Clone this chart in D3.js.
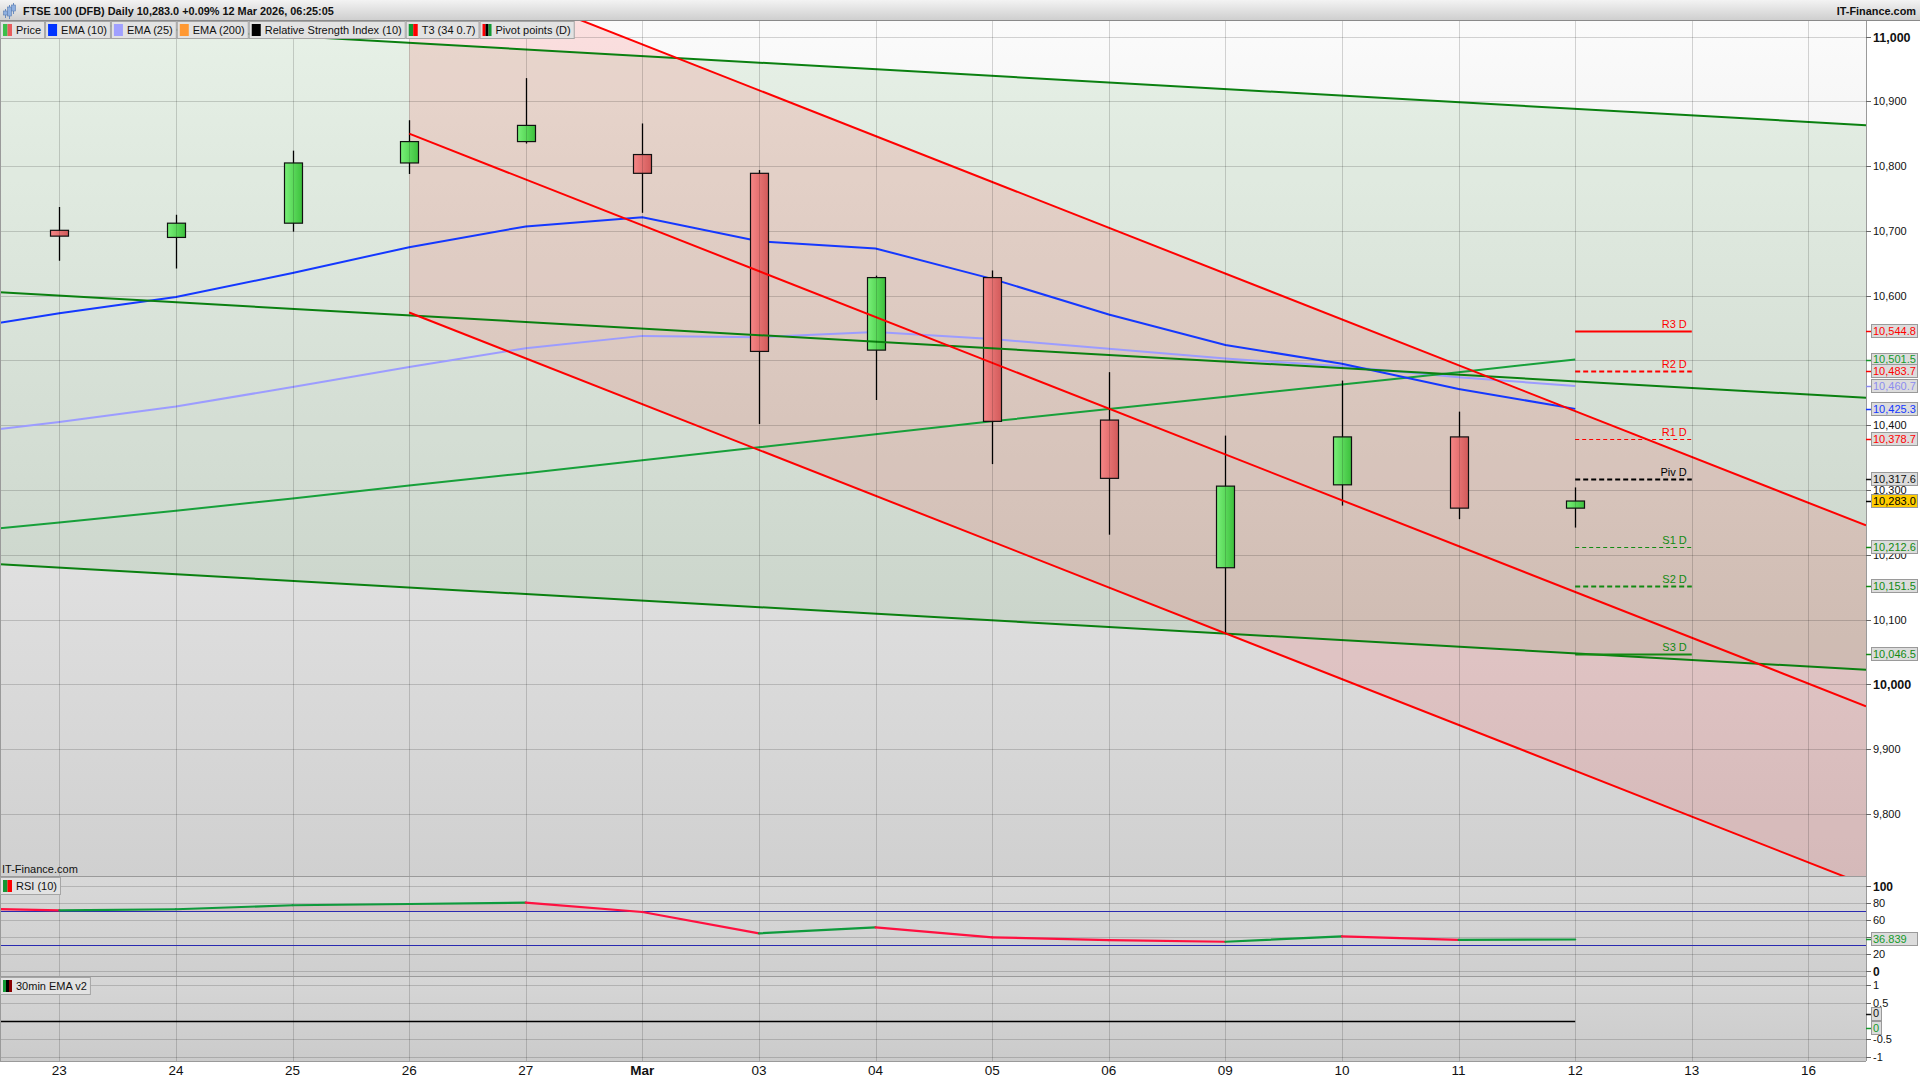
<!DOCTYPE html>
<html><head><meta charset="utf-8">
<script src="https://cdn.jsdelivr.net/npm/d3@7"></script>
<style>
body{margin:0;background:#fff;}
svg{display:block;font-family:"Liberation Sans",Arial,sans-serif;}
</style>
</head><body>
<svg id="c" width="1920" height="1080"></svg>
<script>
// ---------------- DATA ----------------
const titleText = "FTSE 100 (DFB) Daily 10,283.0 +0.09% 12 Mar 2026, 06:25:05";
const brandText = "IT-Finance.com";
const legendItems = ["Price","EMA (10)","EMA (25)","EMA (200)","Relative Strength Index (10)","T3 (34 0.7)","Pivot points (D)"];
// x-axis categories (index 0 = 23 Feb ... 15 = 16 Mar)
const axisDates = ["23","24","25","26","27","Mar","03","04","05","06","09","10","11","12","13","16"];
// daily candles, 23 Feb .. 12 Mar
const candleOpen  = [10701,10690,10712,10805,10838,10818,10789,10516,10628,10408,10180,10308,10382,10272];
const candleHigh  = [10737,10725,10824,10871,10936,10866,10794,10631,10639,10482,10384,10469,10421,10304];
const candleLow   = [10654,10642,10699,10788,10835,10728,10402,10439,10340,10231,10078,10276,10255,10242];
const candleClose = [10692,10712,10805,10838,10863,10789,10514,10628,10406,10318,10306,10382,10272,10283];
// indicators, 20 Feb (index -1) .. 12 Mar
const ema10 = [10544,10573,10598,10635,10675,10707,10721,10684,10673,10626,10571,10524,10495,10456,10425.3];
const ema25 = [10384,10405,10429,10459,10490,10519,10538,10536,10544,10533,10518,10503,10491,10474,10460.7];
const t3    = [10232,10250,10268,10287,10307,10326,10346,10366,10386,10406,10425,10444,10463,10482,10501.5];
const rsi10 = [74.1,71.2,72.4,77.1,78.6,80.1,69.2,44.1,51.2,39.4,36.2,34.2,40.6,36.4,36.839];
const ema30min = [0,0,0,0,0,0,0,0,0,0,0,0,0,0,0];
// trend channels: value at start index and at 16 Mar (index 15)
const greenTrendStart = [11021.0,10600.1,10180.1];   // at 23 Feb
const greenTrendEnd   = [10868.3,10447.5,10027.5];   // at 16 Mar
const redTrendStart   = [11129.6,10850.2,10574.1];   // at 26 Feb
const redTrendEnd     = [10280.3,10001.1,9725.0];    // at 16 Mar
// daily pivots
const pivotNames  = ["R3 D","R2 D","R1 D","Piv D","S1 D","S2 D","S3 D"];
const pivotValues = [10544.8,10483.7,10378.7,10317.6,10212.6,10151.5,10046.5];
const lastPrice = 10283.0;
// axis ticks
const priceTicks = [9800,9900,10000,10100,10200,10300,10400,10500,10600,10700,10800,10900,11000];
const rsiTicks = [0,20,40,60,80,100];
const rsiLevels = [70,30];
const emaTicks = [-1,-0.5,0.5,1];

// ---------------- LAYOUT ----------------
const plotR = 1866;
const mainTop = 21, mainBot = 876, rsiTop = 877, rsiBot = 976, emaTop = 977, emaBot = 1061;
const x = d3.scaleLinear().domain([-0.509, 15.494]).range([0, plotR]);
const y = d3.scaleLinear().domain([9704, 11024.2]).range([mainBot, mainTop]);
const yR = d3.scaleLinear().domain([0, 100]).range([970.8, 885.8]);
const yE = d3.scaleLinear().domain([-1, 1]).range([1057, 985]);
const fmt = d3.format(",");
const fmt1 = d3.format(",.1f");

const svg = d3.select("#c");
const defs = svg.append("defs");
function grad(id, x2, y2, stops) {
  const g = defs.append("linearGradient").attr("id", id).attr("x1",0).attr("y1",0).attr("x2",x2).attr("y2",y2);
  stops.forEach(s => g.append("stop").attr("offset", s[0]).attr("stop-color", s[1]));
}
grad("gTitle", 0, 1, [[0,"#f3f3f3"],[1,"#cdcdcd"]]);
grad("gMain", 0, 1, [[0,"#fbfbfb"],[1,"#d0d0d0"]]);
grad("gRsi", 0, 1, [[0,"#d8d8d8"],[1,"#cfcfcf"]]);
grad("gEma", 0, 1, [[0,"#d6d6d6"],[1,"#cbcbcb"]]);
grad("gRed", 1, 0, [[0,"#f58686"],[1,"#d25a5a"]]);
grad("gGreen", 1, 0, [[0,"#78f078"],[1,"#3cc03c"]]);
function clip(id, x0, y0, w, h) {
  defs.append("clipPath").attr("id", id).append("rect").attr("x",x0).attr("y",y0).attr("width",w).attr("height",h);
}
clip("cMain", 0, mainTop, plotR, mainBot - mainTop);
clip("cRsi", 0, rsiTop, plotR, rsiBot - rsiTop);
clip("cEma", 0, emaTop, plotR, emaBot - emaTop);
clip("cOver70", 0, rsiTop, plotR, yR(70) - rsiTop);

// backgrounds
svg.append("rect").attr("width",1920).attr("height",1080).attr("fill","#fff");
svg.append("rect").attr("x",0).attr("y",mainTop).attr("width",plotR).attr("height",mainBot-mainTop).attr("fill","url(#gMain)");
svg.append("rect").attr("x",0).attr("y",rsiTop).attr("width",plotR).attr("height",rsiBot-rsiTop).attr("fill","url(#gRsi)");
svg.append("rect").attr("x",0).attr("y",emaTop).attr("width",plotR).attr("height",emaBot-emaTop).attr("fill","url(#gEma)");

// ---------------- MAIN PANEL ----------------
const main = svg.append("g").attr("clip-path","url(#cMain)");
const [xa, xb] = x.domain();
function trendVal(p0, i0, p1, i1, i) { return p0 + (p1 - p0) * (i - i0) / (i1 - i0); }
// green channel fill
const gU = i => trendVal(greenTrendStart[0], 0, greenTrendEnd[0], 15, i);
const gL = i => trendVal(greenTrendStart[2], 0, greenTrendEnd[2], 15, i);
main.append("path").attr("fill","rgba(0,128,0,0.08)")
  .attr("d", `M${x(xa)},${y(gU(xa))}L${x(xb)},${y(gU(xb))}L${x(xb)},${y(gL(xb))}L${x(xa)},${y(gL(xa))}Z`);
// red channel fill
const rU = i => trendVal(redTrendStart[0], 3, redTrendEnd[0], 15, i);
const rL = i => trendVal(redTrendStart[2], 3, redTrendEnd[2], 15, i);
main.append("path").attr("fill","rgba(255,0,0,0.11)")
  .attr("d", `M${x(3)},${y(rU(3))}L${x(xb)},${y(rU(xb))}L${x(xb)},${y(rL(xb))}L${x(3)},${y(rL(3))}Z`);

// grid
const gridColor = "rgba(0,0,0,0.16)";
main.selectAll("line.hg").data(priceTicks).enter().append("line")
  .attr("x1",0).attr("x2",plotR).attr("y1",d=>Math.round(y(d))+0.5).attr("y2",d=>Math.round(y(d))+0.5)
  .attr("stroke",gridColor);
svg.selectAll("line.vg").data(axisDates).enter().append("line")
  .attr("x1",(d,i)=>Math.round(x(i))+0.5).attr("x2",(d,i)=>Math.round(x(i))+0.5)
  .attr("y1",mainTop).attr("y2",emaBot).attr("stroke",gridColor);

// indicator lines
const indLine = d3.line().x((d,i)=>x(i-1)).y(d=>y(d));
main.append("path").datum(ema25).attr("d",indLine).attr("fill","none").attr("stroke","#9c9cff").attr("stroke-width",2);
main.append("path").datum(t3).attr("d",indLine).attr("fill","none").attr("stroke","#17a03a").attr("stroke-width",2);
main.append("path").datum(ema10).attr("d",indLine).attr("fill","none").attr("stroke","#1438ff").attr("stroke-width",2);

// candles
const candles = main.selectAll("g.cd").data(candleOpen).enter().append("g");
candles.append("line").attr("x1",(d,i)=>Math.round(x(i))+0.5).attr("x2",(d,i)=>Math.round(x(i))+0.5)
  .attr("y1",(d,i)=>y(candleHigh[i])).attr("y2",(d,i)=>y(candleLow[i])).attr("stroke","#000").attr("stroke-width",1.3);
candles.append("rect")
  .attr("x",(d,i)=>Math.round(x(i))-9+0.5).attr("width",18)
  .attr("y",(d,i)=>y(Math.max(d,candleClose[i])))
  .attr("height",(d,i)=>Math.max(2,Math.abs(y(d)-y(candleClose[i]))))
  .attr("fill",(d,i)=>candleClose[i]>=d?"url(#gGreen)":"url(#gRed)")
  .attr("stroke","#111").attr("stroke-width",1.2);

// trend lines
greenTrendStart.forEach((p0,k)=>{
  const f = i => trendVal(p0, 0, greenTrendEnd[k], 15, i);
  main.append("line").attr("x1",x(xa)).attr("y1",y(f(xa))).attr("x2",x(xb)).attr("y2",y(f(xb)))
    .attr("stroke","#0a8010").attr("stroke-width",2);
});
redTrendStart.forEach((p0,k)=>{
  const f = i => trendVal(p0, 3, redTrendEnd[k], 15, i);
  main.append("line").attr("x1",x(3)).attr("y1",y(f(3))).attr("x2",x(xb)).attr("y2",y(f(xb)))
    .attr("stroke","#ff0000").attr("stroke-width",2);
});

// pivot lines
const pivColor = ["#ff0000","#ff0000","#ff0000","#000000","#128a12","#128a12","#128a12"];
const pivDash = [null,"5,3","4,3","5,3","4,3","5,3",null];
const pivW = [2,2,1,2,1,2,2];
pivotValues.forEach((v,k)=>{
  main.append("line").attr("x1",x(13)).attr("x2",x(14)).attr("y1",Math.round(y(v))+0.5).attr("y2",Math.round(y(v))+0.5)
    .attr("stroke",pivColor[k]).attr("stroke-width",pivW[k]).attr("stroke-dasharray",pivDash[k]);
  main.append("text").attr("x",x(14)-5).attr("y",y(v)-3).attr("text-anchor","end")
    .attr("font-size",11).attr("fill",pivColor[k]).text(pivotNames[k]);
});

main.append("text").attr("x",2).attr("y",873).attr("font-size",11).attr("fill","#111").text(brandText);

// ---------------- RSI PANEL ----------------
const rsiG = svg.append("g").attr("clip-path","url(#cRsi)");
rsiG.selectAll("line.rg").data(rsiTicks).enter().append("line")
  .attr("x1",0).attr("x2",plotR).attr("y1",d=>Math.round(yR(d))+0.5).attr("y2",d=>Math.round(yR(d))+0.5).attr("stroke",gridColor);
rsiG.append("path").datum(rsi10).attr("clip-path","url(#cOver70)")
  .attr("d", d3.area().x((d,i)=>x(i-1)).y0(yR(70)).y1(d=>yR(d)))
  .attr("fill","rgba(200,60,60,0.12)");
rsiLevels.forEach(v=>{
  rsiG.append("line").attr("x1",0).attr("x2",plotR).attr("y1",Math.round(yR(v))+0.5).attr("y2",Math.round(yR(v))+0.5)
    .attr("stroke","#2a2ab0").attr("stroke-width",1);
});
for (let i = 1; i < rsi10.length; i++) {
  rsiG.append("line").attr("x1",x(i-2)).attr("y1",yR(rsi10[i-1])).attr("x2",x(i-1)).attr("y2",yR(rsi10[i]))
    .attr("stroke", rsi10[i] >= rsi10[i-1] ? "#0e9a3c" : "#ff1040").attr("stroke-width",2.2).attr("stroke-linecap","round");
}

// ---------------- 30min EMA PANEL ----------------
const emaG = svg.append("g").attr("clip-path","url(#cEma)");
emaG.selectAll("line.eg").data(emaTicks).enter().append("line")
  .attr("x1",0).attr("x2",plotR).attr("y1",d=>Math.round(yE(d))+0.5).attr("y2",d=>Math.round(yE(d))+0.5).attr("stroke",gridColor);
emaG.append("path").datum(ema30min).attr("d", d3.line().x((d,i)=>x(i-1)).y(d=>Math.round(yE(d))+0.5))
  .attr("fill","none").attr("stroke","#000").attr("stroke-width",1.3);

// panel separators
[mainBot, rsiBot, emaBot].forEach(v=>{
  svg.append("line").attr("x1",0).attr("x2",plotR).attr("y1",v+0.5).attr("y2",v+0.5).attr("stroke","#9a9a9a").attr("stroke-width",1.2);
});
svg.append("line").attr("x1",plotR+0.5).attr("x2",plotR+0.5).attr("y1",mainTop).attr("y2",emaBot).attr("stroke","#9a9a9a");
svg.append("line").attr("x1",0.5).attr("x2",0.5).attr("y1",mainTop).attr("y2",emaBot).attr("stroke","#9a9a9a");

// ---------------- AXES ----------------
const boxes = [
  [pivotValues[0], "#ff0000"],
  [t3[t3.length-1], "#139a2a"],
  [pivotValues[1], "#ff0000"],
  [ema25[ema25.length-1], "#8c8cf0"],
  [ema10[ema10.length-1], "#1438ff"],
  [pivotValues[2], "#ff0000"],
  [pivotValues[3], "#111111"],
  [pivotValues[4], "#128a12"],
  [pivotValues[5], "#128a12"],
  [pivotValues[6], "#128a12"]
];
const boxYs = boxes.map(b=>y(b[0])).concat([y(lastPrice)]);
const rsiBoxY = yR(rsi10[rsi10.length-1]);
const axR = svg.append("g");
priceTicks.forEach(v=>{
  const yy = Math.round(y(v))+0.5;
  axR.append("line").attr("x1",plotR).attr("x2",plotR+5).attr("y1",yy).attr("y2",yy).attr("stroke","#666");
  if (boxYs.some(b=>Math.abs(b-yy)<5)) return; // fully hidden behind a value box
  const big = (v % 1000 === 0);
  axR.append("text").attr("x",plotR+7).attr("y",yy).attr("dy","0.35em")
    .attr("font-size", big?12.5:11).attr("font-weight", big?"bold":"normal").attr("fill","#111").text(fmt(v));
});
rsiTicks.forEach(v=>{
  const yy = Math.round(yR(v))+0.5;
  axR.append("line").attr("x1",plotR).attr("x2",plotR+5).attr("y1",yy).attr("y2",yy).attr("stroke","#666");
  if (Math.abs(rsiBoxY-yy)<5) return;
  const big = (v===0||v===100);
  axR.append("text").attr("x",plotR+7).attr("y",yy).attr("dy","0.35em")
    .attr("font-size", big?12:11).attr("font-weight", big?"bold":"normal").attr("fill","#111").text(v);
});
emaTicks.forEach(v=>{
  const yy = Math.round(yE(v))+0.5;
  axR.append("line").attr("x1",plotR).attr("x2",plotR+5).attr("y1",yy).attr("y2",yy).attr("stroke","#666");
  axR.append("text").attr("x",plotR+7).attr("y",yy).attr("dy","0.35em").attr("font-size",11).attr("fill","#111").text(v);
});

// value boxes
function valueBox(yy, label, color, bg, w) {
  axR.append("line").attr("x1",plotR).attr("x2",plotR+5).attr("y1",Math.round(yy)+0.5).attr("y2",Math.round(yy)+0.5).attr("stroke",color).attr("stroke-width",1.5);
  axR.append("rect").attr("x",plotR+5.5).attr("y",Math.round(yy)-6.5).attr("width",w||46).attr("height",13)
    .attr("fill",bg||"#dcdcdc").attr("stroke","#9a9a9a");
  axR.append("text").attr("x",plotR+7).attr("y",yy).attr("dy","0.36em").attr("font-size",11).attr("fill",color).text(label);
}
boxes.forEach(b=>valueBox(y(b[0]), fmt1(b[0]), b[1]));
valueBox(y(lastPrice), fmt1(lastPrice), "#000", "#ffcc00");
valueBox(rsiBoxY, String(rsi10[rsi10.length-1]), "#139a2a");
valueBox(yE(0)-7.5, String(ema30min[ema30min.length-1]), "#111", "#dcdcdc", 10);
valueBox(yE(0)+7, String(ema30min[ema30min.length-1]), "#139a2a", "#dcdcdc", 10);

// x axis labels
svg.selectAll("text.xl").data(axisDates).enter().append("text")
  .attr("x",(d,i)=>x(i)).attr("y",1075).attr("text-anchor","middle")
  .attr("font-family",'"Liberation Sans Narrow","Liberation Sans",Arial,sans-serif')
  .attr("font-size",13.5).attr("font-weight",d=>d==="Mar"?"bold":"normal").attr("fill","#111").text(d=>d);

// ---------------- TITLE BAR & LEGENDS ----------------
svg.append("rect").attr("x",0).attr("y",0).attr("width",1920).attr("height",mainTop).attr("fill","url(#gTitle)");
svg.append("line").attr("x1",0).attr("x2",1920).attr("y1",mainTop-0.5).attr("y2",mainTop-0.5).attr("stroke","#8a8a8a");
// small icon
const ic = svg.append("g");
[[5,9,6],[9,5,11],[13,3,8]].forEach(a=>{
  ic.append("line").attr("x1",a[0]+0.5).attr("x2",a[0]+0.5).attr("y1",a[1]).attr("y2",a[1]+a[2]+3).attr("stroke","#6a8cc0");
  ic.append("rect").attr("x",a[0]-1.5).attr("y",a[1]+2).attr("width",4).attr("height",a[2]-2).attr("fill","#8fb0e0").attr("stroke","#5a7cb0").attr("stroke-width",0.6);
});
svg.append("text").attr("x",23).attr("y",15).attr("font-size",10.9).attr("font-weight","bold").attr("fill","#111").text(titleText);
svg.append("text").attr("x",1916).attr("y",15).attr("text-anchor","end").attr("font-size",10.9).attr("font-weight","bold").attr("fill","#111").text(brandText);

const swatches = [["#3cbf4a","#e85c5c"],["#0033ff"],["#a0a0ff"],["#ff9933"],["#000000"],["#119933","#ff0000"],["#ff0000","#000000","#119933"]];
function legendButton(xx, yy, label, sw) {
  const g = svg.append("g");
  const r = g.append("rect").attr("x",xx+0.5).attr("y",yy+0.5).attr("height",17).attr("fill","#e2e2e2").attr("stroke","#a5a5a5");
  const sw1 = 9 / sw.length;
  sw.forEach((c,k)=>g.append("rect").attr("x",xx+3+k*sw1).attr("y",yy+3).attr("width",sw1).attr("height",12).attr("fill",c));
  const t = g.append("text").attr("x",xx+16).attr("y",yy+13).attr("font-size",11).attr("fill","#111").text(label);
  const w = 16 + t.node().getComputedTextLength() + 3;
  r.attr("width", w);
  return xx + w + 1;
}
let lx = 0;
legendItems.forEach((l,k)=>{ lx = legendButton(lx, 21, l, swatches[k]); });
legendButton(0, rsiTop, "RSI (10)", ["#119933","#ff0000"]);
legendButton(0, emaTop, "30min EMA v2", ["#119933","#000000","#8b0000"]);
</script>
</body></html>
